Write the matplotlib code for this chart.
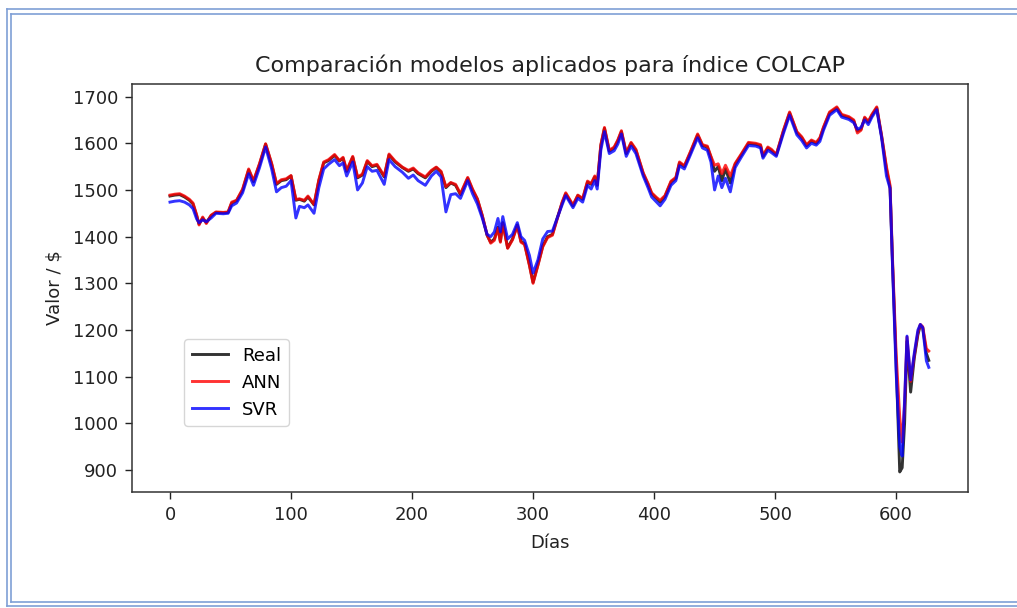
import matplotlib.pyplot as plt
from matplotlib.lines import Line2D

# Días de la serie y valores de cierre (Real, ANN, SVR)
dias = [0, 4, 8, 12, 16, 19, 22, 24, 27, 30, 34, 38, 44, 48, 51, 55, 60, 65, 69, 74,
        79, 84, 88, 92, 96, 100, 104, 107, 111, 114, 119, 123, 127, 131, 136, 140, 143, 146, 151, 155,
        159, 163, 167, 171, 177, 181, 186, 192, 197, 201, 205, 211, 216, 220, 224, 228, 232, 236, 240, 246,
        250, 254, 258, 262, 265, 268, 271, 273, 275, 279, 283, 287, 290, 293, 297, 300, 304, 308, 312, 316,
        320, 324, 327, 333, 337, 341, 345, 348, 351, 353, 356, 359, 363, 367, 370, 373, 377, 381, 385, 391,
        395, 398, 402, 405, 409, 414, 418, 421, 425, 430, 436, 440, 444, 447, 450, 453, 456, 459, 463, 467,
        472, 478, 484, 488, 490, 494, 497, 501, 507, 512, 518, 522, 526, 530, 534, 537, 540, 545, 551, 555,
        561, 565, 568, 571, 574, 577, 580, 584, 588, 592, 595, 597, 600, 603, 605, 607, 609, 612, 615, 618,
        620, 622, 625, 627]

real = [1487, 1489, 1490, 1485, 1478, 1470, 1445, 1427, 1440, 1430, 1445, 1452, 1451, 1452, 1472, 1477, 1500, 1543, 1518, 1555,
        1598, 1555, 1512, 1520, 1522, 1530, 1478, 1480, 1476, 1485, 1468, 1520, 1558, 1563, 1574, 1562, 1568, 1540, 1570, 1526,
        1532, 1561, 1550, 1553, 1528, 1575, 1560, 1548, 1540, 1545, 1535, 1526, 1540, 1548, 1538, 1505, 1515, 1510, 1490, 1525,
        1500, 1480, 1445, 1403, 1388, 1395, 1420, 1390, 1430, 1376, 1395, 1425, 1390, 1385, 1340, 1302, 1340, 1380, 1400, 1405,
        1440, 1472, 1492, 1466, 1488, 1480, 1517, 1512, 1528, 1510, 1595, 1632, 1583, 1590, 1605, 1625, 1578, 1600, 1585, 1535,
        1512, 1492, 1482, 1474, 1486, 1517, 1525, 1558, 1550, 1580, 1618, 1595, 1592, 1570, 1540, 1550, 1520, 1545, 1515, 1555,
        1575, 1600, 1598, 1595, 1572, 1590, 1585, 1575, 1627, 1665, 1623, 1612, 1595, 1605, 1600, 1610, 1633, 1665, 1676, 1660,
        1655, 1648, 1626, 1630, 1654, 1645, 1660, 1676, 1615, 1545, 1505, 1345, 1130, 896, 905, 1000, 1176, 1067, 1140, 1190,
        1210, 1205, 1150, 1135]

ann = [1489, 1491, 1492, 1487, 1480, 1472, 1447, 1425, 1442, 1428, 1446, 1453, 1452, 1453, 1474, 1478, 1502, 1545, 1520, 1557,
       1599, 1557, 1514, 1522, 1524, 1531, 1480, 1481, 1478, 1487, 1469, 1522, 1560, 1565, 1576, 1563, 1570, 1542, 1572, 1528,
       1534, 1563, 1552, 1555, 1530, 1577, 1562, 1549, 1542, 1547, 1537, 1528, 1542, 1549, 1540, 1507, 1516, 1512, 1492, 1527,
       1502, 1481, 1446, 1404, 1386, 1392, 1418, 1388, 1428, 1375, 1393, 1423, 1388, 1383, 1338, 1300, 1338, 1378, 1398, 1403,
       1438, 1474, 1494, 1468, 1489, 1482, 1519, 1514, 1530, 1512, 1597, 1634, 1585, 1592, 1607, 1627, 1580, 1602, 1587, 1537,
       1514, 1494, 1484, 1478, 1488, 1519, 1527, 1560, 1552, 1582, 1620, 1597, 1594, 1572, 1553, 1556, 1535, 1553, 1530, 1557,
       1577, 1602, 1600, 1597, 1574, 1592, 1587, 1576, 1629, 1667, 1625, 1614, 1597, 1607, 1602, 1612, 1635, 1667, 1678, 1662,
       1657, 1650, 1622, 1628, 1656, 1647, 1662, 1678, 1617, 1550, 1510, 1354, 1150, 1013, 960, 1040, 1185, 1090, 1145, 1195,
       1212, 1207, 1160, 1155]

svr = [1474, 1476, 1477, 1474, 1468, 1460, 1438, 1430, 1436, 1432, 1440, 1450, 1449, 1450, 1466, 1472, 1494, 1535, 1510, 1548,
       1592, 1545, 1496, 1505, 1508, 1520, 1440, 1465, 1462, 1468, 1450, 1505, 1545, 1555, 1565, 1552, 1558, 1530, 1560, 1500,
       1515, 1550, 1540, 1542, 1512, 1565, 1550, 1538, 1525, 1532, 1520, 1510, 1530, 1540, 1528, 1453, 1490, 1492, 1482, 1520,
       1492, 1470, 1440, 1405, 1400, 1410, 1439, 1410, 1443, 1395, 1405, 1430, 1400, 1392, 1360, 1322, 1350, 1395, 1411, 1412,
       1440, 1468, 1488, 1462, 1482, 1474, 1510, 1502, 1520, 1502, 1585, 1625, 1578, 1584, 1598, 1620, 1572, 1594, 1578, 1530,
       1505, 1485, 1474, 1466, 1480, 1510, 1520, 1552, 1545, 1575, 1612, 1590, 1585, 1560, 1500, 1530, 1505, 1525, 1496, 1548,
       1570, 1595, 1594, 1590, 1568, 1585, 1580, 1572, 1622, 1660, 1618, 1606, 1590, 1600, 1596, 1604, 1628, 1660, 1672, 1656,
       1651, 1644, 1630, 1634, 1650, 1640, 1656, 1672, 1612, 1530, 1503, 1340, 1110, 950, 930, 1050, 1187, 1093, 1150, 1200,
       1212, 1205, 1134, 1120]

fig = plt.figure(figsize=(10.17, 6.08), dpi=100)
ax = fig.add_axes([132 / 1017, 1 - 492 / 608, 836 / 1017, 408 / 608])

ax.plot(dias, real, color='black', lw=2.1, alpha=0.8, label='Real')
ax.plot(dias, ann, color='red', lw=2.1, alpha=0.8, label='ANN')
ax.plot(dias, svr, color='blue', lw=2.1, alpha=0.8, label='SVR')

ax.set_xlim(-31.4, 659.4)
ax.set_ylim(853, 1727)
ax.set_xticks(range(0, 601, 100))
ax.set_yticks(range(900, 1701, 100))
ax.tick_params(labelsize=13, length=5, width=1.0, pad=5, colors='#222222')
for s in ax.spines.values():
    s.set_linewidth(1.1)
    s.set_color('#333333')
ax.set_title('Comparación modelos aplicados para índice COLCAP', fontsize=16, pad=9, color='#222222')
ax.set_xlabel('Días', fontsize=13, labelpad=7, color='#222222')
ax.set_ylabel('Valor / $', fontsize=13, labelpad=7, color='#222222')
ax.legend(loc='lower left', bbox_to_anchor=(0.052, 0.14), fontsize=13)

# marco doble alrededor de la figura
borde = '#7f9fd6'
W, H = 1017, 608
for xs, ys in [([6.5, 6.5], [8.5, 605.5]), ([10.5, 10.5], [13.5, 601.5]),
               ([6.5, W], [8.5, 8.5]), ([10.5, W], [13.5, 13.5]),
               ([6.5, W], [605.5, 605.5]), ([10.5, W], [601.5, 601.5])]:
    fig.add_artist(Line2D([x / W for x in xs], [1 - y / H for y in ys],
                          color=borde, lw=1.2, transform=fig.transFigure))

fig.savefig('out.png', dpi=100)
